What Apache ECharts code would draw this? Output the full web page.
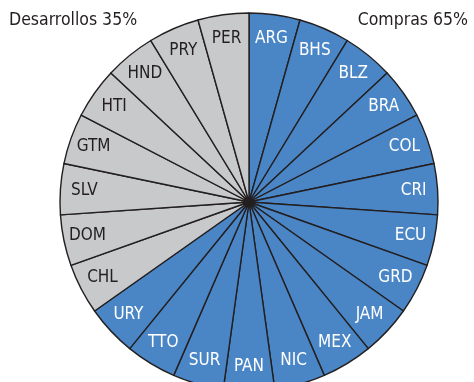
<!DOCTYPE html>
<html>
<head>
<meta charset="utf-8">
<script src="https://cdn.jsdelivr.net/npm/echarts@6/dist/echarts.min.js"></script>
<style>
  html, body { margin: 0; padding: 0; background: #fff; }
  #chart { width: 474px; height: 382px; }
</style>
</head>
<body>
<div id="chart"></div>
<script>
// Countries split into the two groups, listed clockwise from 12 o'clock
const comprasCountries = ['ARG', 'BHS', 'BLZ', 'BRA', 'COL', 'CRI', 'ECU', 'GRD', 'JAM', 'MEX', 'NIC', 'PAN', 'SUR', 'TTO', 'URY'];
const desarrollosCountries = ['CHL', 'DOM', 'SLV', 'GTM', 'HTI', 'HND', 'PRY', 'PER'];
// Each country counts once
const comprasValues = comprasCountries.map(() => 1);
const desarrollosValues = desarrollosCountries.map(() => 1);
const groupTitles = ['Desarrollos 35%', 'Compras 65%'];

const BLUE = '#4a86c6';
const GRAY = '#c8c9cb';
const LINE = '#231f20';
const FONT = '"Liberation Sans Narrow", "DejaVu Sans Condensed", Roboto, sans-serif';

const sliceData = [];
comprasCountries.forEach((c, i) => sliceData.push({ name: c, value: comprasValues[i], group: 'c' }));
desarrollosCountries.forEach((c, i) => sliceData.push({ name: c, value: desarrollosValues[i], group: 'd' }));

const chart = echarts.init(document.getElementById('chart'), null, { renderer: 'canvas' });
chart.setOption({
  animation: false,
  graphic: [
    { type: 'text', left: 9, top: 11, style: { text: groupTitles[0], font: '17.5px ' + FONT, fill: '#231f20' } },
    { type: 'text', right: 6, top: 11, style: { text: groupTitles[1], font: '17.5px ' + FONT, fill: '#231f20' } }
  ],
  series: [
    {
      type: 'pie',
      center: [249, 202],
      radius: [0, 189],
      startAngle: 90,
      clockwise: true,
      silent: true,
      label: { show: false },
      labelLine: { show: false },
      itemStyle: { borderColor: LINE, borderWidth: 1.4 },
      data: sliceData.map(d => ({
        name: d.name,
        value: d.value,
        itemStyle: { color: d.group === 'c' ? BLUE : GRAY }
      }))
    },
    {
      // transparent ring that carries the country labels near the rim
      type: 'pie',
      center: [249, 202],
      radius: [136, 188],
      startAngle: 90,
      clockwise: true,
      silent: true,
      itemStyle: { color: 'transparent', borderWidth: 0 },
      label: {
        show: true,
        position: 'inside',
        fontFamily: FONT,
        fontSize: 17
      },
      labelLine: { show: false },
      data: sliceData.map(d => ({
        name: d.name,
        value: d.value,
        label: { color: d.group === 'c' ? '#ffffff' : '#231f20' }
      }))
    }
  ]
});
</script>
</body>
</html>
